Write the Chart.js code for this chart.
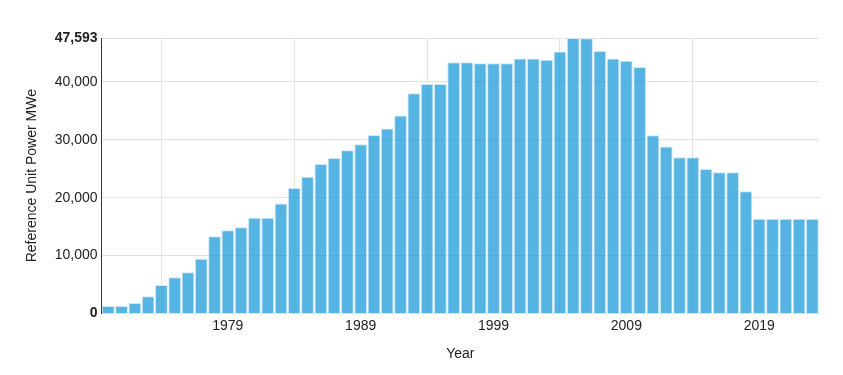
<!DOCTYPE html>
<html>
<head>
<meta charset="utf-8">
<script src="https://cdn.jsdelivr.net/npm/chart.js@4"></script>
<style>
  html, body { margin: 0; padding: 0; background: #fff; }
  #wrap { width: 843px; height: 375px; }
</style>
</head>
<body>
<div id="wrap"><canvas id="powerChart"></canvas></div>
<script>
const years = [];
for (let y = 1970; y <= 2023; y++) years.push(String(y));

const powerMWe = [
  1300, 1300, 1800, 2950, 4900, 6250, 7100, 9450, 13350, 14350,
  14900, 16550, 16550, 19000, 21650, 23600, 25800, 26850, 28200, 29250,
  30850, 31950, 34200, 38050, 39650, 39650, 43400, 43400, 43250, 43250,
  43250, 44050, 44050, 43850, 45250, 47593, 47550, 45350, 44050, 43650,
  42600, 30800, 28850, 27000, 27000, 24950, 24400, 24400, 21100, 16350,
  16350, 16350, 16350, 16350
];

const tickYears = ['1979', '1989', '1999', '2009', '2019'];
const yTicks = [0, 10000, 20000, 30000, 40000, 47593];
const maxPower = 47593;

Chart.defaults.font.family = '"Liberation Sans", Arial, sans-serif';
Chart.defaults.font.size = 14;
Chart.defaults.color = '#222';

const config = {
  type: 'bar',
  data: {
    labels: years,
    datasets: [{
      label: 'Reference Unit Power MWe',
      data: powerMWe,
      backgroundColor: 'rgba(29, 155, 218, 0.75)',
      borderColor: 'rgba(205, 232, 247, 1)',
      borderWidth: 1,
      barPercentage: 0.96,
      categoryPercentage: 1
    }]
  },
  options: {
    responsive: true,
    maintainAspectRatio: false,
    animation: false,
    layout: { padding: { top: 38, right: 24, left: 24, bottom: 12 } },
    plugins: { legend: { display: false }, tooltip: { enabled: false } },
    scales: {
      x: {
        grid: { color: '#e2e2e2', drawTicks: false },
        border: { color: '#e2e2e2' },
        ticks: {
          autoSkip: false,
          maxRotation: 0,
          padding: 4,
          callback(value) {
            const lab = this.getLabelForValue(value);
            return tickYears.includes(lab) ? lab : null;
          }
        },
        title: { display: true, text: 'Year', padding: { top: 8, bottom: 0 } }
      },
      y: {
        min: 0,
        max: maxPower,
        grid: { color: '#e2e2e2', drawTicks: false },
        border: { color: '#333' },
        afterBuildTicks(scale) {
          scale.ticks = yTicks.map(v => ({ value: v }));
        },
        ticks: {
          padding: 4,
          font(ctx) {
            const v = ctx.tick && ctx.tick.value;
            return (v === 0 || v === maxPower) ? { weight: 'bold' } : { weight: 'normal' };
          },
          callback(v) { return v.toLocaleString('en-US'); }
        },
        title: { display: true, text: 'Reference Unit Power MWe', padding: { top: 0, bottom: 10 } }
      }
    }
  }
};

const powerChart = new Chart(document.getElementById('powerChart'), config);
</script>
</body>
</html>
